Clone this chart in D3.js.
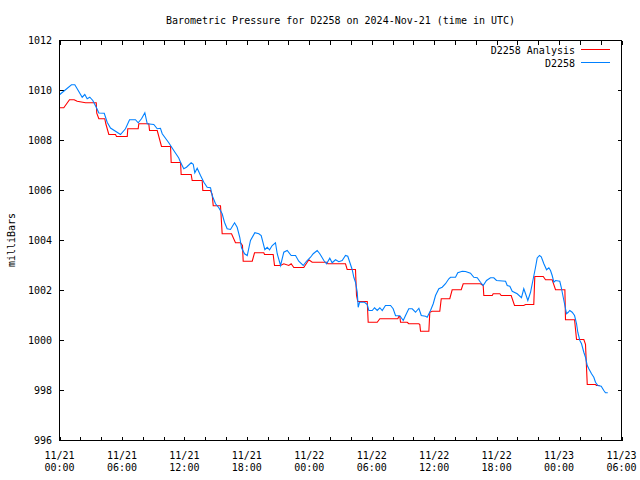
<!DOCTYPE html>
<html>
<head>
<meta charset="utf-8">
<script src="https://cdn.jsdelivr.net/npm/d3@7"></script>
<style>
  html, body { margin: 0; padding: 0; background: #fff; }
  svg { display: block; }
  text { font-family: "DejaVu Sans Mono", "Liberation Mono", monospace; font-size: 10px; fill: #000; }
</style>
</head>
<body>
<svg id="chart" width="640" height="480"></svg>
<script>
// ---- Data (hours since 2024-11-21 00:00 UTC) ----
const obsHours = [0.0,1.15,1.47,1.70,2.18,2.43,2.66,2.91,3.20,3.53,3.78,4.30,4.58,4.90,5.38,5.86,6.34,6.73,7.30,7.56,7.88,8.20,8.43,9.06,9.39,9.70,9.87,10.50,10.98,11.46,11.63,11.94,12.20,12.65,12.85,13.00,13.23,13.55,13.87,14.19,14.51,14.67,14.99,15.31,15.63,15.85,16.11,16.43,16.82,17.07,17.32,17.49,17.78,18.04,18.35,18.77,19.15,19.38,19.73,19.96,20.18,20.44,20.75,20.92,21.24,21.55,21.88,22.26,22.68,22.99,23.42,23.73,24.12,24.38,24.76,25.01,25.40,25.66,25.97,26.20,26.52,26.84,27.16,27.48,27.70,27.89,28.12,28.28,28.44,28.61,28.70,28.83,29.31,29.57,29.72,30.05,30.27,30.53,30.78,31.01,31.32,31.81,32.06,32.29,32.70,33.03,33.25,33.56,33.89,34.21,34.53,34.76,35.17,35.33,35.65,35.91,36.13,36.45,36.77,37.09,37.41,37.57,38.05,38.27,38.70,39.01,39.49,39.81,40.14,40.45,40.71,41.03,41.41,41.73,41.99,42.86,43.02,43.27,43.50,43.98,44.39,44.61,44.78,45.00,45.26,45.52,45.74,45.90,46.12,46.29,46.54,46.80,47.02,47.18,47.34,47.50,47.66,48.07,48.21,48.40,48.56,48.72,48.88,49.03,49.26,49.49,49.68,49.80,50.00,50.16,50.38,50.54,50.71,50.86,51.12,51.34,51.50,51.73,52.05,52.30,52.46,52.68];
const obsValues = [1009.83,1010.23,1010.23,1010.07,1009.73,1009.84,1009.67,1009.73,1009.60,1009.33,1009.10,1009.09,1008.73,1008.50,1008.37,1008.24,1008.47,1008.83,1008.83,1008.71,1008.87,1009.11,1008.67,1008.64,1008.47,1008.49,1008.27,1007.91,1007.60,1007.30,1007.13,1006.87,1006.93,1007.11,1007.05,1006.71,1006.89,1006.60,1006.33,1006.13,1006.11,1005.80,1005.47,1005.31,1005.07,1004.73,1004.47,1004.44,1004.71,1004.53,1004.13,1003.71,1003.47,1003.40,1004.00,1004.31,1004.27,1004.20,1003.63,1003.73,1003.63,1003.80,1003.91,1003.47,1003.00,1003.53,1003.60,1003.40,1003.40,1003.17,1003.00,1003.17,1003.33,1003.47,1003.60,1003.47,1003.20,1003.07,1003.29,1003.11,1003.23,1003.15,1003.20,1003.40,1003.37,1003.13,1002.84,1002.53,1002.33,1001.93,1001.33,1001.53,1001.53,1001.44,1001.20,1001.20,1001.31,1001.20,1001.31,1001.20,1001.40,1001.40,1001.27,1000.99,1000.99,1000.80,1001.00,1001.27,1001.27,1001.13,1001.29,1001.00,1000.97,1000.93,1001.20,1001.47,1001.80,1002.07,1002.13,1002.27,1002.47,1002.53,1002.53,1002.71,1002.77,1002.76,1002.69,1002.53,1002.51,1002.33,1002.20,1002.40,1002.51,1002.51,1002.40,1002.37,1002.20,1002.17,1001.97,1001.87,1001.71,1002.07,1001.87,1001.60,1001.93,1002.47,1002.93,1003.30,1003.40,1003.35,1003.07,1002.83,1002.91,1002.80,1002.60,1002.33,1002.40,1002.37,1002.13,1001.73,1001.40,1001.07,1001.13,1001.20,1001.13,1001.00,1000.67,1000.33,1000.00,999.87,999.53,999.33,999.00,998.87,998.67,998.53,998.33,998.20,998.17,998.00,997.91,997.91];

const anaHours = [0.00,0.41,0.96,1.41,1.70,2.50,3.53,3.58,3.78,4.35,4.45,4.74,5.38,5.48,6.51,6.56,7.56,7.62,8.58,8.65,9.39,9.80,10.67,10.73,11.63,11.69,12.65,12.75,13.71,13.77,14.51,14.67,14.77,15.47,15.63,16.53,16.91,17.39,17.58,17.65,18.52,18.74,19.63,19.70,20.53,20.66,21.24,21.55,22.03,22.26,22.51,23.47,23.96,24.28,25.72,25.78,27.48,27.64,28.44,28.54,28.66,29.57,29.66,30.53,30.78,32.51,32.60,32.70,32.77,33.41,33.56,34.53,34.62,34.69,35.49,35.58,35.81,36.54,36.68,37.50,37.73,38.60,38.79,40.45,40.71,40.77,41.58,41.67,42.31,42.44,43.40,43.72,44.61,44.78,45.57,45.67,46.48,46.70,47.34,47.66,48.56,48.62,49.49,49.68,50.38,50.54,50.71,51.50,51.60,51.90];
const anaValues = [1009.31,1009.31,1009.63,1009.63,1009.57,1009.51,1009.51,1009.09,1008.87,1008.87,1008.67,1008.24,1008.24,1008.16,1008.16,1008.47,1008.47,1008.67,1008.67,1008.40,1008.40,1007.76,1007.76,1007.12,1007.12,1006.64,1006.64,1006.40,1006.40,1006.00,1006.00,1005.84,1005.39,1005.39,1004.27,1004.27,1003.91,1003.91,1003.80,1003.17,1003.17,1003.51,1003.51,1003.44,1003.44,1003.00,1003.00,1003.07,1003.00,1003.07,1002.92,1002.92,1003.23,1003.13,1003.13,1003.07,1003.07,1002.84,1002.84,1001.80,1001.56,1001.56,1000.73,1000.73,1000.87,1000.87,1000.96,1000.96,1000.73,1000.73,1000.67,1000.67,1000.64,1000.37,1000.37,1001.13,1001.17,1001.17,1001.67,1001.67,1002.03,1002.03,1002.27,1002.27,1002.20,1001.80,1001.80,1001.87,1001.87,1001.80,1001.80,1001.40,1001.40,1001.44,1001.44,1002.56,1002.56,1002.43,1002.43,1002.03,1002.03,1000.83,1000.83,1000.04,1000.04,999.85,998.24,998.24,998.20,998.20];

const yTicks = [996, 998, 1000, 1002, 1004, 1006, 1008, 1010, 1012];
const xLabelDates = ["11/21", "11/21", "11/21", "11/21", "11/22", "11/22", "11/22", "11/22", "11/23", "11/23"];
const xLabelTimes = ["00:00", "06:00", "12:00", "18:00", "00:00", "06:00", "12:00", "18:00", "00:00", "06:00"];
const seriesNames = ["D2258 Analysis", "D2258"];
const titleText = "Barometric Pressure for D2258 on 2024-Nov-21 (time in UTC)";
const yLabelText = "milliBars";

// ---- Layout ----
const L = 59.5, R = 621.5, T = 40.5, B = 440.5;
const t0 = Date.UTC(2024, 10, 21, 0);
const t1 = Date.UTC(2024, 10, 23, 6);
const toDate = h => new Date(t0 + h * 3600e3);

const x = d3.scaleUtc().domain([new Date(t0), new Date(t1)]).range([L, R]);
const y = d3.scaleLinear().domain([996, 1012]).range([B, T]);

const svg = d3.select("#chart");

// Title
svg.append("text").attr("x", (L + R) / 2).attr("y", 24)
  .attr("text-anchor", "middle").text(titleText);

// Y label
svg.append("text").attr("transform", "translate(15,240) rotate(-90)")
  .attr("text-anchor", "middle").text(yLabelText);

const g = svg.append("g");
const tickLen = 4;

// X ticks every 2 hours (top and bottom, inward)
const minorTicks = d3.utcHour.every(2).range(new Date(t0), new Date(t1 + 1));
g.selectAll(".xtb").data(minorTicks).join("line")
  .attr("x1", d => Math.round(x(d)) + 0.5).attr("x2", d => Math.round(x(d)) + 0.5)
  .attr("y1", B).attr("y2", B - tickLen)
  .attr("stroke", "#000").attr("shape-rendering", "crispEdges");
g.selectAll(".xtt").data(minorTicks).join("line")
  .attr("x1", d => Math.round(x(d)) + 0.5).attr("x2", d => Math.round(x(d)) + 0.5)
  .attr("y1", T).attr("y2", T + tickLen)
  .attr("stroke", "#000").attr("shape-rendering", "crispEdges");

// Y ticks left and right, inward
g.selectAll(".ytl").data(yTicks).join("line")
  .attr("x1", L).attr("x2", L + tickLen)
  .attr("y1", d => y(d)).attr("y2", d => y(d))
  .attr("stroke", "#000").attr("shape-rendering", "crispEdges");
g.selectAll(".ytr").data(yTicks).join("line")
  .attr("x1", R).attr("x2", R - tickLen)
  .attr("y1", d => y(d)).attr("y2", d => y(d))
  .attr("stroke", "#000").attr("shape-rendering", "crispEdges");

// Y tick labels
g.selectAll(".ylab").data(yTicks).join("text")
  .attr("x", 52).attr("y", d => y(d) + 3.5)
  .attr("text-anchor", "end").text(d => d);

// X tick labels
const labelTicks = xLabelDates.map((d, i) => new Date(t0 + i * 6 * 3600e3));
g.selectAll(".xlab1").data(labelTicks).join("text")
  .attr("x", d => x(d)).attr("y", 458.5)
  .attr("text-anchor", "middle").text((d, i) => xLabelDates[i]);
g.selectAll(".xlab2").data(labelTicks).join("text")
  .attr("x", d => x(d)).attr("y", 470.5)
  .attr("text-anchor", "middle").text((d, i) => xLabelTimes[i]);

// Lines
const line = d3.line().x(d => x(toDate(d[0]))).y(d => y(d[1]));
const anaData = anaHours.map((h, i) => [h, anaValues[i]]);
const obsData = obsHours.map((h, i) => [h, obsValues[i]]);

svg.append("path").datum(anaData).attr("d", line)
  .attr("fill", "none").attr("stroke", "#ff0000").attr("stroke-width", 1.1);
svg.append("path").datum(obsData).attr("d", line)
  .attr("fill", "none").attr("stroke", "#0080ff").attr("stroke-width", 1.1);

// Frame
svg.append("rect").attr("x", L).attr("y", T).attr("width", R - L).attr("height", B - T)
  .attr("fill", "none").attr("stroke", "#000").attr("shape-rendering", "crispEdges");

// Legend
const colors = ["#ff0000", "#0080ff"];
seriesNames.forEach((name, i) => {
  const yy = 49.5 + i * 13;
  svg.append("text").attr("x", 575).attr("y", yy + 4).attr("text-anchor", "end").text(name);
  svg.append("line").attr("x1", 581).attr("x2", 610).attr("y1", yy).attr("y2", yy)
    .attr("stroke", colors[i]).attr("shape-rendering", "crispEdges");
});
</script>
</body>
</html>
